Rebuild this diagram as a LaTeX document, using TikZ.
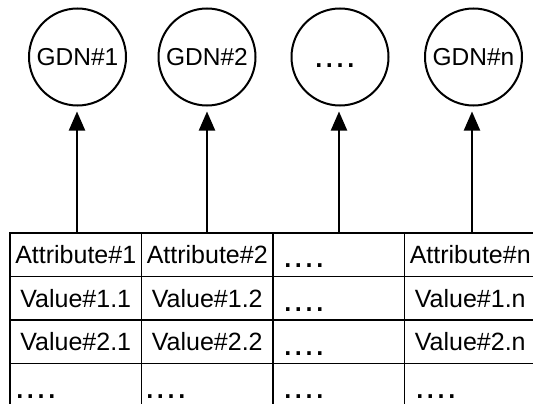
\documentclass[tikz,border=0pt]{standalone}
\usepackage{fontspec}
\setmainfont{Liberation Sans}
\usetikzlibrary{arrows.meta}
\begin{document}
\begin{tikzpicture}[x=1pt,y=-1pt,
  gdn/.style={circle,draw,line width=2pt,minimum size=97pt,inner sep=0pt,
    font=\fontsize{24.5}{29}\selectfont},
  cell/.style={anchor=base,inner sep=0pt,font=\fontsize{25}{29}\selectfont},
  dots/.style={anchor=base west,inner sep=0pt,
    font=\fontsize{36}{40}\selectfont\addfontfeatures{LetterSpace=1.9}},
  link/.style={line width=2pt,-{Triangle[length=19pt,width=16pt]},shorten >=5pt},
  frame/.style={line width=2.6pt},
  rule/.style={line width=1.7pt}]
\useasboundingbox (0,0) rectangle (533,404);
\fill[white] (0,0) rectangle (533,404);
\clip (0,0) rectangle (533,404);

% graph nodes
\node[gdn] (g1) at (77.5,57) {GDN\#1};
\node[gdn] (g2) at (207,57) {GDN\#2};
\node[gdn] (g3) at (340,57) {};
\node[gdn] (g4) at (473.5,57) {GDN\#n};
\node[dots] (gd) at (313.6,68) {....};

% table grid
\draw[frame] (10,410) -- (10,233) -- (540,233);
\draw[rule] (10,276.5) -- (540,276.5);
\draw[rule] (10,320) -- (540,320);
\draw[rule] (10,363.5) -- (540,363.5);
\draw[rule] (141.5,233) -- (141.5,410);
\draw[rule] (273,233) -- (273,410);
\draw[rule] (404.5,233) -- (404.5,410);

% header row
\node[cell] (h1) at (75.75,263.5) {Attribute\#1};
\node[cell] (h2) at (207.25,263.5) {Attribute\#2};
\node[dots] (h3) at (282.6,267.5) {....};
\node[cell] (h4) at (470.25,263.5) {Attribute\#n};

% value rows
\node[cell] (v11) at (75.75,307) {Value\#1.1};
\node[cell] (v12) at (207.25,307) {Value\#1.2};
\node[dots] (v13) at (282.6,311.5) {....};
\node[cell] (v14) at (470.25,307) {Value\#1.n};

\node[cell] (v21) at (75.75,350.5) {Value\#2.1};
\node[cell] (v22) at (207.25,350.5) {Value\#2.2};
\node[dots] (v23) at (282.6,355) {....};
\node[cell] (v24) at (470.25,350.5) {Value\#2.n};

\node[dots] (r1) at (14.6,398.5) {....};
\node[dots] (r2) at (144.6,398.5) {....};
\node[dots] (r3) at (282.6,398.5) {....};
\node[dots] (r4) at (414.6,398.5) {....};

% attribute-to-node links
\coordinate (a1) at (77,233);
\coordinate (a2) at (207,233);
\coordinate (a3) at (339,233);
\coordinate (a4) at (472,233);
\draw[link] (a1) -- (a1 |- g1.south);
\draw[link] (a2) -- (a2 |- g2.south);
\draw[link] (a3) -- (a3 |- g3.south);
\draw[link] (a4) -- (a4 |- g4.south);
\end{tikzpicture}
\end{document}
